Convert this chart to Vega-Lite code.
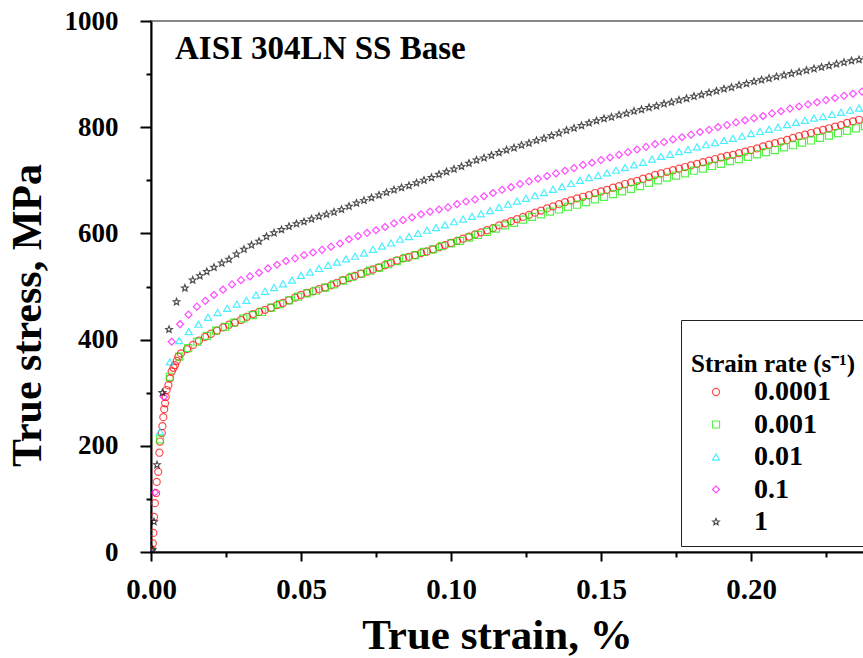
{
"$schema":"https://vega.github.io/schema/vega-lite/v6.json",
"width":720,"height":531,
"autosize":{"type":"none"},
"padding":{"left":151,"top":21,"right":0,"bottom":106},
"background":"white",
"title":{"text":"AISI 304LN SS Base","anchor":"start","orient":"top","frame":"group","offset":0,"dx":24,"dy":85,"baseline":"alphabetic","font":"Liberation Serif","fontSize":33,"fontWeight":"bold","color":"black"},
"config":{"view":{"stroke":"#888888","strokeWidth":2},"font":"Liberation Serif"},
"data":{"values":[
{"rate":"0.0001","strain":0,"stress":0},{"rate":"0.0001","strain":0.0003,"stress":5},{"rate":"0.0001","strain":0.0006,"stress":16},{"rate":"0.0001","strain":0.0008,"stress":36},{"rate":"0.0001","strain":0.001,"stress":66},{"rate":"0.0001","strain":0.0013,"stress":92},{"rate":"0.0001","strain":0.0017,"stress":111},{"rate":"0.0001","strain":0.0019,"stress":132},{"rate":"0.0001","strain":0.0024,"stress":151},{"rate":"0.0001","strain":0.0028,"stress":187},{"rate":"0.0001","strain":0.003,"stress":208},{"rate":"0.0001","strain":0.0036,"stress":224},{"rate":"0.0001","strain":0.0038,"stress":237},{"rate":"0.0001","strain":0.0041,"stress":254},{"rate":"0.0001","strain":0.0044,"stress":269},{"rate":"0.0001","strain":0.0047,"stress":280},{"rate":"0.0001","strain":0.0049,"stress":292},{"rate":"0.0001","strain":0.0052,"stress":305},{"rate":"0.0001","strain":0.0058,"stress":314},{"rate":"0.0001","strain":0.0063,"stress":327},{"rate":"0.0001","strain":0.0069,"stress":340},{"rate":"0.0001","strain":0.0075,"stress":347},{"rate":"0.0001","strain":0.008,"stress":352},{"rate":"0.0001","strain":0.0086,"stress":360},{"rate":"0.0001","strain":0.0091,"stress":368},
{"rate":"0.0001","strain":0.010,"stress":374},{"rate":"0.0001","strain":0.012,"stress":382},{"rate":"0.0001","strain":0.014,"stress":390},{"rate":"0.0001","strain":0.016,"stress":398},{"rate":"0.0001","strain":0.018,"stress":405},{"rate":"0.0001","strain":0.020,"stress":411},{"rate":"0.0001","strain":0.022,"stress":417},{"rate":"0.0001","strain":0.024,"stress":423},{"rate":"0.0001","strain":0.026,"stress":428},{"rate":"0.0001","strain":0.028,"stress":432},{"rate":"0.0001","strain":0.030,"stress":437},{"rate":"0.0001","strain":0.032,"stress":443},{"rate":"0.0001","strain":0.034,"stress":448},{"rate":"0.0001","strain":0.036,"stress":452},{"rate":"0.0001","strain":0.038,"stress":456},{"rate":"0.0001","strain":0.040,"stress":460},{"rate":"0.0001","strain":0.042,"stress":465},{"rate":"0.0001","strain":0.044,"stress":469},{"rate":"0.0001","strain":0.046,"stress":474},{"rate":"0.0001","strain":0.048,"stress":479},{"rate":"0.0001","strain":0.050,"stress":484},{"rate":"0.0001","strain":0.052,"stress":488},{"rate":"0.0001","strain":0.054,"stress":491},{"rate":"0.0001","strain":0.056,"stress":495},{"rate":"0.0001","strain":0.058,"stress":498},{"rate":"0.0001","strain":0.060,"stress":502},{"rate":"0.0001","strain":0.062,"stress":507},{"rate":"0.0001","strain":0.064,"stress":512},{"rate":"0.0001","strain":0.066,"stress":516},{"rate":"0.0001","strain":0.068,"stress":520},{"rate":"0.0001","strain":0.070,"stress":524},{"rate":"0.0001","strain":0.072,"stress":528},{"rate":"0.0001","strain":0.074,"stress":532},{"rate":"0.0001","strain":0.076,"stress":536},{"rate":"0.0001","strain":0.078,"stress":540},{"rate":"0.0001","strain":0.080,"stress":545},{"rate":"0.0001","strain":0.082,"stress":549},{"rate":"0.0001","strain":0.084,"stress":553},{"rate":"0.0001","strain":0.086,"stress":556},{"rate":"0.0001","strain":0.088,"stress":559},{"rate":"0.0001","strain":0.090,"stress":563},{"rate":"0.0001","strain":0.092,"stress":566},{"rate":"0.0001","strain":0.094,"stress":570},{"rate":"0.0001","strain":0.096,"stress":574},{"rate":"0.0001","strain":0.098,"stress":578},{"rate":"0.0001","strain":0.100,"stress":582},{"rate":"0.0001","strain":0.102,"stress":586},{"rate":"0.0001","strain":0.104,"stress":590},{"rate":"0.0001","strain":0.106,"stress":594},{"rate":"0.0001","strain":0.108,"stress":598},{"rate":"0.0001","strain":0.110,"stress":602},{"rate":"0.0001","strain":0.112,"stress":606},{"rate":"0.0001","strain":0.114,"stress":610},{"rate":"0.0001","strain":0.116,"stress":615},{"rate":"0.0001","strain":0.118,"stress":619},{"rate":"0.0001","strain":0.120,"stress":623},{"rate":"0.0001","strain":0.122,"stress":627},{"rate":"0.0001","strain":0.124,"stress":631},{"rate":"0.0001","strain":0.126,"stress":635},{"rate":"0.0001","strain":0.128,"stress":639},{"rate":"0.0001","strain":0.130,"stress":643},{"rate":"0.0001","strain":0.132,"stress":647},{"rate":"0.0001","strain":0.134,"stress":651},{"rate":"0.0001","strain":0.136,"stress":655},{"rate":"0.0001","strain":0.138,"stress":659},{"rate":"0.0001","strain":0.140,"stress":662},{"rate":"0.0001","strain":0.142,"stress":666},{"rate":"0.0001","strain":0.144,"stress":669},{"rate":"0.0001","strain":0.146,"stress":672},{"rate":"0.0001","strain":0.148,"stress":676},{"rate":"0.0001","strain":0.150,"stress":679},{"rate":"0.0001","strain":0.152,"stress":682},{"rate":"0.0001","strain":0.154,"stress":686},{"rate":"0.0001","strain":0.156,"stress":689},{"rate":"0.0001","strain":0.158,"stress":693},{"rate":"0.0001","strain":0.160,"stress":696},{"rate":"0.0001","strain":0.162,"stress":699},{"rate":"0.0001","strain":0.164,"stress":703},{"rate":"0.0001","strain":0.166,"stress":706},{"rate":"0.0001","strain":0.168,"stress":710},{"rate":"0.0001","strain":0.170,"stress":713},{"rate":"0.0001","strain":0.172,"stress":716},{"rate":"0.0001","strain":0.174,"stress":719},{"rate":"0.0001","strain":0.176,"stress":722},{"rate":"0.0001","strain":0.178,"stress":725},{"rate":"0.0001","strain":0.180,"stress":728},{"rate":"0.0001","strain":0.182,"stress":731},{"rate":"0.0001","strain":0.184,"stress":734},{"rate":"0.0001","strain":0.186,"stress":737},{"rate":"0.0001","strain":0.188,"stress":740},{"rate":"0.0001","strain":0.190,"stress":743},{"rate":"0.0001","strain":0.192,"stress":746},{"rate":"0.0001","strain":0.194,"stress":748},{"rate":"0.0001","strain":0.196,"stress":751},{"rate":"0.0001","strain":0.198,"stress":754},{"rate":"0.0001","strain":0.200,"stress":757},{"rate":"0.0001","strain":0.202,"stress":760},{"rate":"0.0001","strain":0.204,"stress":764},{"rate":"0.0001","strain":0.206,"stress":767},{"rate":"0.0001","strain":0.208,"stress":770},{"rate":"0.0001","strain":0.210,"stress":773},{"rate":"0.0001","strain":0.212,"stress":776},{"rate":"0.0001","strain":0.214,"stress":780},{"rate":"0.0001","strain":0.216,"stress":783},{"rate":"0.0001","strain":0.218,"stress":786},{"rate":"0.0001","strain":0.220,"stress":789},{"rate":"0.0001","strain":0.222,"stress":792},{"rate":"0.0001","strain":0.224,"stress":795},{"rate":"0.0001","strain":0.226,"stress":798},{"rate":"0.0001","strain":0.228,"stress":801},{"rate":"0.0001","strain":0.230,"stress":804},{"rate":"0.0001","strain":0.232,"stress":808},{"rate":"0.0001","strain":0.234,"stress":811},{"rate":"0.0001","strain":0.236,"stress":814},
{"rate":"0.001","strain":0,"stress":0},{"rate":"0.001","strain":0.003,"stress":212},{"rate":"0.001","strain":0.0063,"stress":330},{"rate":"0.001","strain":0.0094,"stress":368},{"rate":"0.001","strain":0.0124,"stress":384},{"rate":"0.001","strain":0.0154,"stress":396},{"rate":"0.001","strain":0.0186,"stress":407},{"rate":"0.001","strain":0.0217,"stress":417},{"rate":"0.001","strain":0.0247,"stress":424},{"rate":"0.001","strain":0.0277,"stress":432},{"rate":"0.001","strain":0.0308,"stress":440},{"rate":"0.001","strain":0.0339,"stress":446},{"rate":"0.001","strain":0.037,"stress":452},{"rate":"0.001","strain":0.040,"stress":460},{"rate":"0.001","strain":0.043,"stress":467},{"rate":"0.001","strain":0.046,"stress":474},{"rate":"0.001","strain":0.049,"stress":481},{"rate":"0.001","strain":0.052,"stress":487},{"rate":"0.001","strain":0.055,"stress":492},{"rate":"0.001","strain":0.058,"stress":498},{"rate":"0.001","strain":0.061,"stress":504},{"rate":"0.001","strain":0.064,"stress":511},{"rate":"0.001","strain":0.067,"stress":518},{"rate":"0.001","strain":0.070,"stress":524},{"rate":"0.001","strain":0.073,"stress":530},{"rate":"0.001","strain":0.076,"stress":535},{"rate":"0.001","strain":0.079,"stress":542},{"rate":"0.001","strain":0.082,"stress":548},{"rate":"0.001","strain":0.085,"stress":554},{"rate":"0.001","strain":0.088,"stress":559},{"rate":"0.001","strain":0.091,"stress":565},{"rate":"0.001","strain":0.094,"stress":570},{"rate":"0.001","strain":0.097,"stress":576},{"rate":"0.001","strain":0.100,"stress":581},{"rate":"0.001","strain":0.103,"stress":586},{"rate":"0.001","strain":0.106,"stress":592},{"rate":"0.001","strain":0.109,"stress":597},{"rate":"0.001","strain":0.112,"stress":603},{"rate":"0.001","strain":0.115,"stress":609},{"rate":"0.001","strain":0.118,"stress":615},{"rate":"0.001","strain":0.121,"stress":620},{"rate":"0.001","strain":0.124,"stress":626},{"rate":"0.001","strain":0.127,"stress":631},{"rate":"0.001","strain":0.130,"stress":636},{"rate":"0.001","strain":0.133,"stress":641},{"rate":"0.001","strain":0.136,"stress":645},{"rate":"0.001","strain":0.139,"stress":650},{"rate":"0.001","strain":0.142,"stress":654},{"rate":"0.001","strain":0.145,"stress":659},{"rate":"0.001","strain":0.148,"stress":664},{"rate":"0.001","strain":0.151,"stress":669},{"rate":"0.001","strain":0.154,"stress":674},{"rate":"0.001","strain":0.157,"stress":679},{"rate":"0.001","strain":0.160,"stress":684},{"rate":"0.001","strain":0.163,"stress":689},{"rate":"0.001","strain":0.166,"stress":695},{"rate":"0.001","strain":0.169,"stress":700},{"rate":"0.001","strain":0.172,"stress":705},{"rate":"0.001","strain":0.175,"stress":709},{"rate":"0.001","strain":0.178,"stress":713},{"rate":"0.001","strain":0.181,"stress":718},{"rate":"0.001","strain":0.184,"stress":722},{"rate":"0.001","strain":0.187,"stress":727},{"rate":"0.001","strain":0.190,"stress":731},{"rate":"0.001","strain":0.193,"stress":736},{"rate":"0.001","strain":0.196,"stress":740},{"rate":"0.001","strain":0.199,"stress":744},{"rate":"0.001","strain":0.202,"stress":749},{"rate":"0.001","strain":0.205,"stress":753},{"rate":"0.001","strain":0.208,"stress":757},{"rate":"0.001","strain":0.211,"stress":762},{"rate":"0.001","strain":0.214,"stress":766},{"rate":"0.001","strain":0.217,"stress":771},{"rate":"0.001","strain":0.220,"stress":775},{"rate":"0.001","strain":0.223,"stress":780},{"rate":"0.001","strain":0.226,"stress":784},{"rate":"0.001","strain":0.229,"stress":789},{"rate":"0.001","strain":0.232,"stress":793},{"rate":"0.001","strain":0.235,"stress":798},{"rate":"0.001","strain":0.238,"stress":802},
{"rate":"0.01","strain":0,"stress":0},{"rate":"0.01","strain":0.003,"stress":227},{"rate":"0.01","strain":0.0063,"stress":358},{"rate":"0.01","strain":0.0094,"stress":398},{"rate":"0.01","strain":0.0126,"stress":415},{"rate":"0.01","strain":0.0158,"stress":429},{"rate":"0.01","strain":0.019,"stress":442},{"rate":"0.01","strain":0.0222,"stress":451},{"rate":"0.01","strain":0.0254,"stress":459},{"rate":"0.01","strain":0.0286,"stress":467},{"rate":"0.01","strain":0.0318,"stress":474},{"rate":"0.01","strain":0.035,"stress":484},{"rate":"0.01","strain":0.038,"stress":491},{"rate":"0.01","strain":0.041,"stress":498},{"rate":"0.01","strain":0.044,"stress":505},{"rate":"0.01","strain":0.047,"stress":512},{"rate":"0.01","strain":0.050,"stress":521},{"rate":"0.01","strain":0.053,"stress":527},{"rate":"0.01","strain":0.056,"stress":534},{"rate":"0.01","strain":0.059,"stress":540},{"rate":"0.01","strain":0.062,"stress":546},{"rate":"0.01","strain":0.065,"stress":552},{"rate":"0.01","strain":0.068,"stress":557},{"rate":"0.01","strain":0.071,"stress":563},{"rate":"0.01","strain":0.074,"stress":570},{"rate":"0.01","strain":0.077,"stress":576},{"rate":"0.01","strain":0.080,"stress":582},{"rate":"0.01","strain":0.083,"stress":589},{"rate":"0.01","strain":0.086,"stress":594},{"rate":"0.01","strain":0.089,"stress":600},{"rate":"0.01","strain":0.092,"stress":606},{"rate":"0.01","strain":0.095,"stress":611},{"rate":"0.01","strain":0.098,"stress":616},{"rate":"0.01","strain":0.101,"stress":622},{"rate":"0.01","strain":0.104,"stress":627},{"rate":"0.01","strain":0.107,"stress":632},{"rate":"0.01","strain":0.110,"stress":637},{"rate":"0.01","strain":0.113,"stress":643},{"rate":"0.01","strain":0.116,"stress":649},{"rate":"0.01","strain":0.119,"stress":655},{"rate":"0.01","strain":0.122,"stress":661},{"rate":"0.01","strain":0.125,"stress":666},{"rate":"0.01","strain":0.128,"stress":671},{"rate":"0.01","strain":0.131,"stress":677},{"rate":"0.01","strain":0.134,"stress":683},{"rate":"0.01","strain":0.137,"stress":688},{"rate":"0.01","strain":0.140,"stress":694},{"rate":"0.01","strain":0.143,"stress":700},{"rate":"0.01","strain":0.146,"stress":705},{"rate":"0.01","strain":0.149,"stress":709},{"rate":"0.01","strain":0.152,"stress":714},{"rate":"0.01","strain":0.155,"stress":719},{"rate":"0.01","strain":0.158,"stress":724},{"rate":"0.01","strain":0.161,"stress":729},{"rate":"0.01","strain":0.164,"stress":734},{"rate":"0.01","strain":0.167,"stress":740},{"rate":"0.01","strain":0.170,"stress":745},{"rate":"0.01","strain":0.173,"stress":749},{"rate":"0.01","strain":0.176,"stress":754},{"rate":"0.01","strain":0.179,"stress":758},{"rate":"0.01","strain":0.182,"stress":763},{"rate":"0.01","strain":0.185,"stress":767},{"rate":"0.01","strain":0.188,"stress":771},{"rate":"0.01","strain":0.191,"stress":775},{"rate":"0.01","strain":0.194,"stress":779},{"rate":"0.01","strain":0.197,"stress":783},{"rate":"0.01","strain":0.200,"stress":788},{"rate":"0.01","strain":0.203,"stress":792},{"rate":"0.01","strain":0.206,"stress":796},{"rate":"0.01","strain":0.209,"stress":800},{"rate":"0.01","strain":0.212,"stress":805},{"rate":"0.01","strain":0.215,"stress":809},{"rate":"0.01","strain":0.218,"stress":813},{"rate":"0.01","strain":0.221,"stress":817},{"rate":"0.01","strain":0.224,"stress":820},{"rate":"0.01","strain":0.227,"stress":824},{"rate":"0.01","strain":0.230,"stress":828},{"rate":"0.01","strain":0.233,"stress":832},{"rate":"0.01","strain":0.236,"stress":836},{"rate":"0.01","strain":0.239,"stress":840},
{"rate":"0.1","strain":0,"stress":0},{"rate":"0.1","strain":0.0013,"stress":112},{"rate":"0.1","strain":0.0043,"stress":292},{"rate":"0.1","strain":0.0069,"stress":396},{"rate":"0.1","strain":0.0097,"stress":429},{"rate":"0.1","strain":0.0125,"stress":447},{"rate":"0.1","strain":0.0153,"stress":462},{"rate":"0.1","strain":0.0181,"stress":473},{"rate":"0.1","strain":0.021,"stress":484},{"rate":"0.1","strain":0.024,"stress":494},{"rate":"0.1","strain":0.027,"stress":504},{"rate":"0.1","strain":0.030,"stress":512},{"rate":"0.1","strain":0.033,"stress":519},{"rate":"0.1","strain":0.036,"stress":526},{"rate":"0.1","strain":0.039,"stress":534},{"rate":"0.1","strain":0.042,"stress":541},{"rate":"0.1","strain":0.045,"stress":548},{"rate":"0.1","strain":0.048,"stress":553},{"rate":"0.1","strain":0.051,"stress":559},{"rate":"0.1","strain":0.054,"stress":564},{"rate":"0.1","strain":0.057,"stress":569},{"rate":"0.1","strain":0.060,"stress":575},{"rate":"0.1","strain":0.063,"stress":581},{"rate":"0.1","strain":0.066,"stress":589},{"rate":"0.1","strain":0.069,"stress":595},{"rate":"0.1","strain":0.072,"stress":601},{"rate":"0.1","strain":0.075,"stress":606},{"rate":"0.1","strain":0.078,"stress":612},{"rate":"0.1","strain":0.081,"stress":619},{"rate":"0.1","strain":0.084,"stress":625},{"rate":"0.1","strain":0.087,"stress":630},{"rate":"0.1","strain":0.090,"stress":636},{"rate":"0.1","strain":0.093,"stress":641},{"rate":"0.1","strain":0.096,"stress":645},{"rate":"0.1","strain":0.099,"stress":649},{"rate":"0.1","strain":0.102,"stress":655},{"rate":"0.1","strain":0.105,"stress":660},{"rate":"0.1","strain":0.108,"stress":664},{"rate":"0.1","strain":0.111,"stress":670},{"rate":"0.1","strain":0.114,"stress":676},{"rate":"0.1","strain":0.117,"stress":682},{"rate":"0.1","strain":0.120,"stress":687},{"rate":"0.1","strain":0.123,"stress":693},{"rate":"0.1","strain":0.126,"stress":698},{"rate":"0.1","strain":0.129,"stress":703},{"rate":"0.1","strain":0.132,"stress":708},{"rate":"0.1","strain":0.135,"stress":713},{"rate":"0.1","strain":0.138,"stress":718},{"rate":"0.1","strain":0.141,"stress":723},{"rate":"0.1","strain":0.144,"stress":729},{"rate":"0.1","strain":0.147,"stress":733},{"rate":"0.1","strain":0.150,"stress":738},{"rate":"0.1","strain":0.153,"stress":743},{"rate":"0.1","strain":0.156,"stress":748},{"rate":"0.1","strain":0.159,"stress":753},{"rate":"0.1","strain":0.162,"stress":758},{"rate":"0.1","strain":0.165,"stress":763},{"rate":"0.1","strain":0.168,"stress":768},{"rate":"0.1","strain":0.171,"stress":772},{"rate":"0.1","strain":0.174,"stress":777},{"rate":"0.1","strain":0.177,"stress":781},{"rate":"0.1","strain":0.180,"stress":786},{"rate":"0.1","strain":0.183,"stress":791},{"rate":"0.1","strain":0.186,"stress":795},{"rate":"0.1","strain":0.189,"stress":800},{"rate":"0.1","strain":0.192,"stress":804},{"rate":"0.1","strain":0.195,"stress":809},{"rate":"0.1","strain":0.198,"stress":813},{"rate":"0.1","strain":0.201,"stress":817},{"rate":"0.1","strain":0.204,"stress":821},{"rate":"0.1","strain":0.207,"stress":826},{"rate":"0.1","strain":0.210,"stress":830},{"rate":"0.1","strain":0.213,"stress":835},{"rate":"0.1","strain":0.216,"stress":839},{"rate":"0.1","strain":0.219,"stress":843},{"rate":"0.1","strain":0.222,"stress":847},{"rate":"0.1","strain":0.225,"stress":851},{"rate":"0.1","strain":0.228,"stress":855},{"rate":"0.1","strain":0.231,"stress":859},{"rate":"0.1","strain":0.234,"stress":863},{"rate":"0.1","strain":0.237,"stress":867},
{"rate":"1","strain":0.0005,"stress":4},{"rate":"1","strain":0.001,"stress":57},{"rate":"1","strain":0.002,"stress":164},{"rate":"1","strain":0.0038,"stress":300},{"rate":"1","strain":0.006,"stress":419},{"rate":"1","strain":0.0085,"stress":471},{"rate":"1","strain":0.0113,"stress":497},{"rate":"1","strain":0.0139,"stress":512},{"rate":"1","strain":0.0163,"stress":520},{"rate":"1","strain":0.0186,"stress":528},{"rate":"1","strain":0.021,"stress":536},{"rate":"1","strain":0.0236,"stress":544},{"rate":"1","strain":0.026,"stress":551},{"rate":"1","strain":0.0285,"stress":561},{"rate":"1","strain":0.031,"stress":570},{"rate":"1","strain":0.0335,"stress":578},{"rate":"1","strain":0.036,"stress":585},{"rate":"1","strain":0.0385,"stress":594},{"rate":"1","strain":0.041,"stress":601},{"rate":"1","strain":0.0435,"stress":607},{"rate":"1","strain":0.046,"stress":613},{"rate":"1","strain":0.0485,"stress":618},{"rate":"1","strain":0.051,"stress":622},{"rate":"1","strain":0.0535,"stress":627},{"rate":"1","strain":0.056,"stress":632},{"rate":"1","strain":0.0585,"stress":636},{"rate":"1","strain":0.061,"stress":640},{"rate":"1","strain":0.0635,"stress":645},{"rate":"1","strain":0.066,"stress":651},{"rate":"1","strain":0.0685,"stress":657},{"rate":"1","strain":0.071,"stress":662},{"rate":"1","strain":0.0735,"stress":667},{"rate":"1","strain":0.076,"stress":672},{"rate":"1","strain":0.0785,"stress":677},{"rate":"1","strain":0.081,"stress":682},{"rate":"1","strain":0.0835,"stress":686},{"rate":"1","strain":0.086,"stress":690},{"rate":"1","strain":0.0885,"stress":695},{"rate":"1","strain":0.091,"stress":700},{"rate":"1","strain":0.0935,"stress":705},{"rate":"1","strain":0.096,"stress":711},{"rate":"1","strain":0.0985,"stress":716},{"rate":"1","strain":0.101,"stress":721},{"rate":"1","strain":0.1035,"stress":726},{"rate":"1","strain":0.106,"stress":732},{"rate":"1","strain":0.1085,"stress":738},{"rate":"1","strain":0.111,"stress":742},{"rate":"1","strain":0.1135,"stress":747},{"rate":"1","strain":0.116,"stress":752},{"rate":"1","strain":0.1185,"stress":757},{"rate":"1","strain":0.121,"stress":761},{"rate":"1","strain":0.1235,"stress":766},{"rate":"1","strain":0.126,"stress":770},{"rate":"1","strain":0.1285,"stress":775},{"rate":"1","strain":0.131,"stress":779},{"rate":"1","strain":0.1335,"stress":784},{"rate":"1","strain":0.136,"stress":789},{"rate":"1","strain":0.1385,"stress":794},{"rate":"1","strain":0.141,"stress":798},{"rate":"1","strain":0.1435,"stress":803},{"rate":"1","strain":0.146,"stress":808},{"rate":"1","strain":0.1485,"stress":812},{"rate":"1","strain":0.151,"stress":816},{"rate":"1","strain":0.1535,"stress":819},{"rate":"1","strain":0.156,"stress":823},{"rate":"1","strain":0.1585,"stress":826},{"rate":"1","strain":0.161,"stress":830},{"rate":"1","strain":0.1635,"stress":833},{"rate":"1","strain":0.166,"stress":837},{"rate":"1","strain":0.1685,"stress":840},{"rate":"1","strain":0.171,"stress":844},{"rate":"1","strain":0.1735,"stress":847},{"rate":"1","strain":0.176,"stress":851},{"rate":"1","strain":0.1785,"stress":854},{"rate":"1","strain":0.181,"stress":858},{"rate":"1","strain":0.1835,"stress":861},{"rate":"1","strain":0.186,"stress":865},{"rate":"1","strain":0.1885,"stress":868},{"rate":"1","strain":0.191,"stress":872},{"rate":"1","strain":0.1935,"stress":875},{"rate":"1","strain":0.196,"stress":879},{"rate":"1","strain":0.1985,"stress":882},{"rate":"1","strain":0.201,"stress":886},{"rate":"1","strain":0.2035,"stress":889},{"rate":"1","strain":0.206,"stress":892},{"rate":"1","strain":0.2085,"stress":895},{"rate":"1","strain":0.211,"stress":898},{"rate":"1","strain":0.2135,"stress":901},{"rate":"1","strain":0.216,"stress":904},{"rate":"1","strain":0.2185,"stress":907},{"rate":"1","strain":0.221,"stress":910},{"rate":"1","strain":0.2235,"stress":913},{"rate":"1","strain":0.226,"stress":916},{"rate":"1","strain":0.2285,"stress":919},{"rate":"1","strain":0.231,"stress":922},{"rate":"1","strain":0.2335,"stress":925},{"rate":"1","strain":0.236,"stress":927},{"rate":"1","strain":0.2385,"stress":930}
]},
"mark":{"type":"point","filled":false,"strokeWidth":1.2,"clip":true},
"encoding":{
"x":{"field":"strain","type":"quantitative","scale":{"domain":[0,0.24],"nice":false,"zero":false},
 "axis":{"values":[0,0.025,0.05,0.075,0.1,0.125,0.15,0.175,0.2,0.225],
  "labelExpr":"round(datum.value*1000) % 50 == 0 ? format(datum.value,'.2f') : ''",
  "tickSize":{"condition":{"test":"round(datum.value*1000) % 50 == 0","value":9},"value":5},
  "tickWidth":2,"tickColor":"black","domainColor":"black","domainWidth":2,"grid":false,
  "labelFont":"Liberation Serif","labelFontSize":29,"labelFontWeight":"bold","labelColor":"black","labelPadding":14,"labelFlush":false,"labelOverlap":false,
  "title":"True strain, %","titleFont":"Liberation Serif","titleFontSize":43,"titleFontWeight":"bold","titleColor":"black","titlePadding":10,"titleX":346}},
"y":{"field":"stress","type":"quantitative","scale":{"domain":[0,1000],"nice":false},
 "axis":{"values":[0,100,200,300,400,500,600,700,800,900,1000],
  "labelExpr":"datum.value % 200 == 0 ? format(datum.value,'d') : ''",
  "tickSize":{"condition":{"test":"datum.value % 200 == 0","value":11},"value":5},
  "tickWidth":2,"tickColor":"black","domainColor":"black","domainWidth":2,"grid":false,
  "labelFont":"Liberation Serif","labelFontSize":27,"labelFontWeight":"bold","labelColor":"black","labelPadding":22,"labelOverlap":false,
  "title":"True stress, MPa","titleFont":"Liberation Serif","titleFontSize":42,"titleFontWeight":"bold","titleColor":"black","titlePadding":15,"titleY":294}},
"color":{"field":"rate","type":"nominal","scale":{"domain":["0.0001","0.001","0.01","0.1","1"],"range":["#ff0000","#11ee00","#00e8ff","#ff00ff","#000000"]},
 "legend":{"orient":"none","legendX":530,"legendY":299,"title":["","Strain rate (s⁻¹)"],"titleFont":"Liberation Serif","titleFontSize":25,"titleFontWeight":"bold","titleColor":"black","titleLineHeight":22,"titlePadding":1,
  "labelFont":"Liberation Serif","labelFontSize":28,"labelFontWeight":"bold","labelColor":"black","strokeColor":"#222222","padding":10,"fillColor":"white","symbolOffset":11,"labelOffset":24,"rowPadding":4.5,"symbolSize":45,"symbolStrokeWidth":1.2}},
"shape":{"field":"rate","type":"nominal","scale":{"domain":["0.0001","0.001","0.01","0.1","1"],"range":["circle","square","triangle-up","diamond","M0,-1L0.26,-0.36L0.951,-0.309L0.42,0.14L0.588,0.809L0,0.44L-0.588,0.809L-0.42,0.14L-0.951,-0.309L-0.26,-0.36Z"]},
 "legend":{"orient":"none","legendX":530,"legendY":299,"title":["","Strain rate (s⁻¹)"],"titleFont":"Liberation Serif","titleFontSize":25,"titleFontWeight":"bold","titleColor":"black","titleLineHeight":22,"titlePadding":1,
  "labelFont":"Liberation Serif","labelFontSize":28,"labelFontWeight":"bold","labelColor":"black","strokeColor":"#222222","padding":10,"fillColor":"white","symbolOffset":11,"labelOffset":24,"rowPadding":4.5,"symbolSize":45,"symbolStrokeWidth":1.2}},
"size":{"field":"rate","type":"nominal","scale":{"domain":["0.0001","0.001","0.01","0.1","1"],"range":[50,48,60,60,80]},"legend":null}
}
}
